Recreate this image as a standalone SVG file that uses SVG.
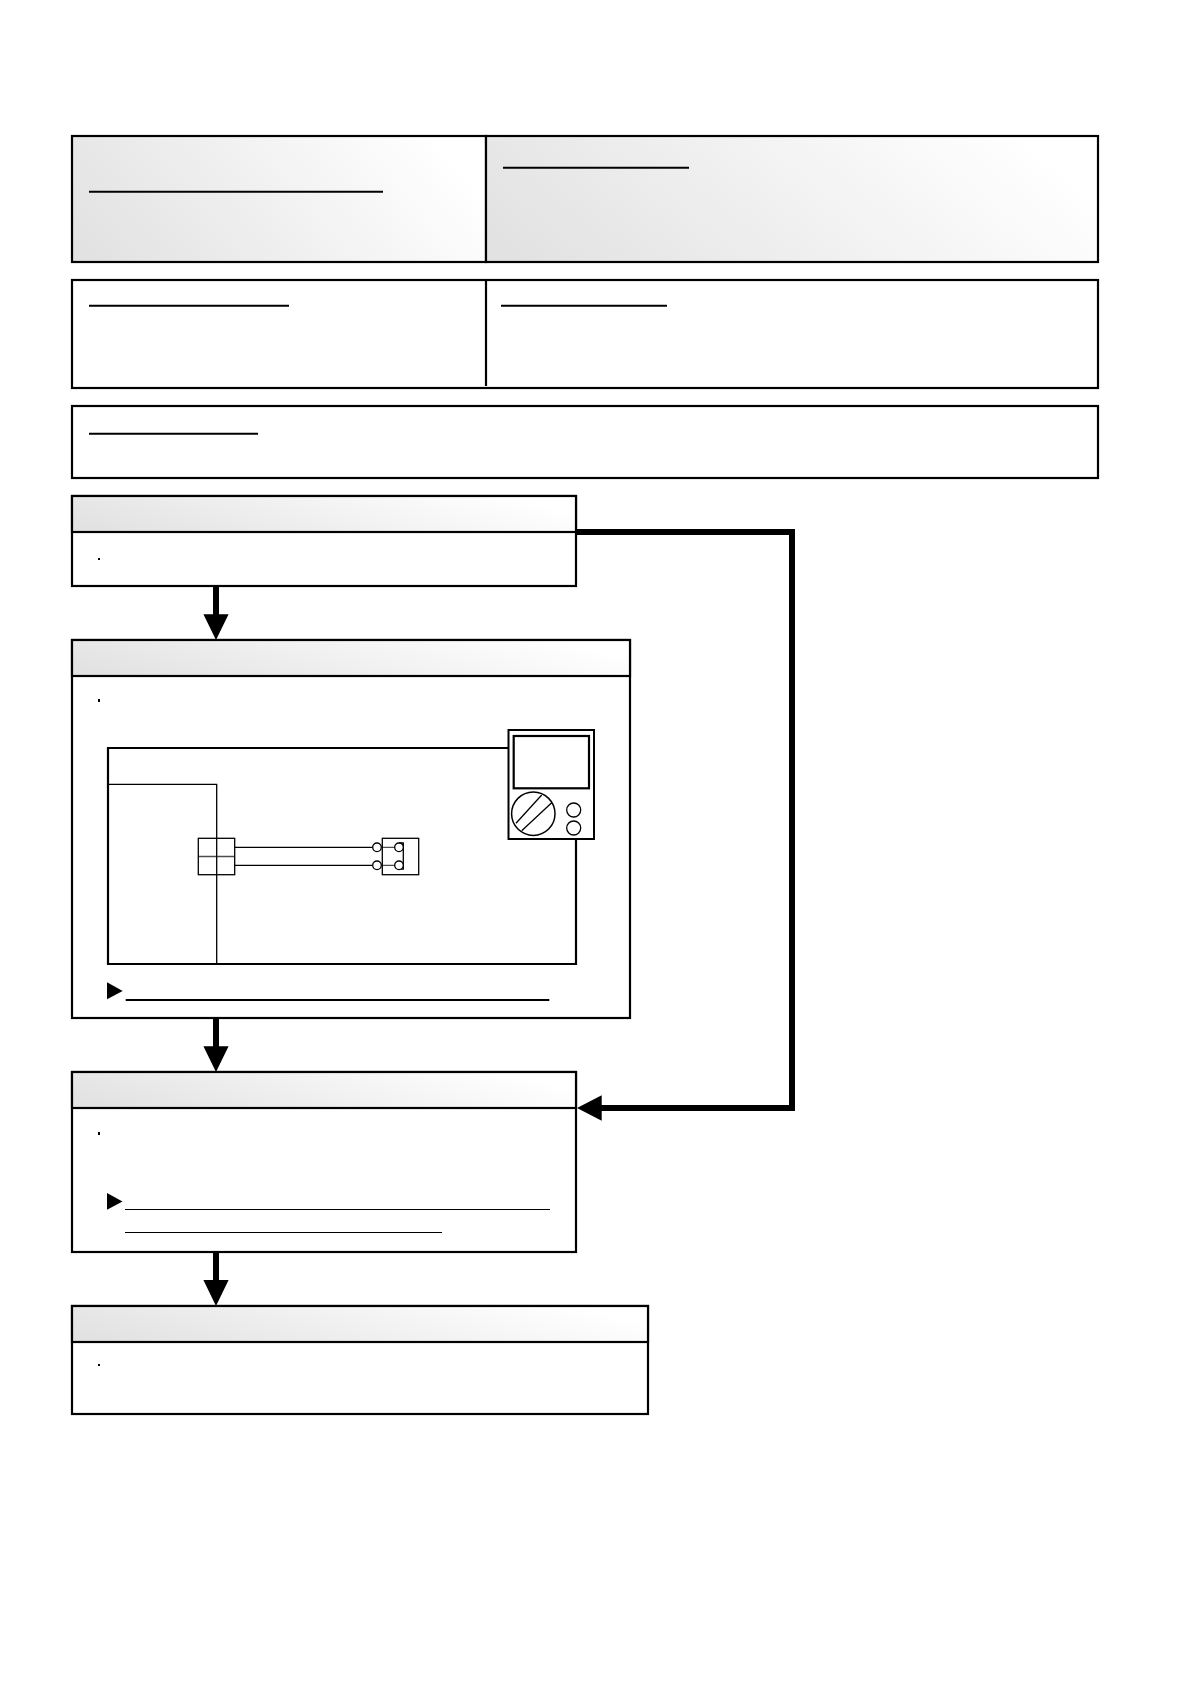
<svg xmlns="http://www.w3.org/2000/svg" width="1192" height="1684" viewBox="0 0 1192 1684">
<style>
.box{fill:#fff;stroke:#000;stroke-width:2.2}
.hdr{fill:url(#g);stroke:#000;stroke-width:2.2}
.ul{stroke:#000;stroke-width:2;fill:none}
.ut{stroke:#000;stroke-width:1.2;fill:none}
.thin{stroke:#000;stroke-width:1.3;fill:none}
.thick{stroke:#000;stroke-width:2.2;fill:none}
.c{fill:#fff;stroke:#000;stroke-width:1.3}
.conn{stroke:#000;stroke-width:6;fill:none}
</style>
<defs>
<linearGradient id="g" x1="0" y1="0.75" x2="1" y2="0.5">
<stop offset="0" stop-color="#e2e2e2"/><stop offset="1" stop-color="#ffffff"/>
</linearGradient>
</defs>
<rect width="1192" height="1684" fill="#fff"/>
<g id="n-top-left"><rect class="hdr" x="72" y="136" width="414" height="126"/><path class="ul" d="M89 191.7H383"/></g>
<g id="n-top-right"><rect class="hdr" x="486" y="136" width="612" height="126"/><path class="ul" d="M503 167.7H689"/></g>
<g id="n-mid"><rect class="box" x="72" y="280" width="1026" height="108"/><path class="thick" d="M486 280V386"/><path class="ul" d="M89 305.7H289M501 305.7H667"/></g>
<g id="n-note"><rect class="box" x="72" y="406" width="1026" height="72"/><path class="ul" d="M89 433.7H258"/></g>
<g id="n-step1"><rect class="box" x="72" y="496" width="504" height="90"/><rect class="hdr" x="72" y="496" width="504" height="36"/><rect x="98" y="558" width="2" height="2"/></g>
<g id="n-step2"><rect class="box" x="72" y="640" width="558" height="378"/><rect class="hdr" x="72" y="640" width="558" height="36"/><rect x="98" y="699" width="2" height="3"/>
<path class="thick" d="M508 748H108V964H576V839"/>
<path class="thin" d="M108 784.3H216.7V964"/>
<rect class="thin" x="198.3" y="838.3" width="36.4" height="36.4"/><path class="thin" stroke-opacity="0.7" d="M198.3 856.5H234.7"/>
<path class="thin" d="M234.7 847.3H373M234.7 865.3H373"/>
<rect class="thin" x="382.3" y="838.3" width="36.4" height="36.4"/>
<path class="thin" stroke-opacity="0.7" d="M381 847.3H395M381 865.3H395"/>
<path class="thin" d="M399 843H403.3V869H399"/>
<circle class="c" cx="377" cy="847.3" r="4.3"/><circle class="c" cx="377" cy="865.3" r="4.3"/>
<circle class="c" cx="399" cy="847.3" r="4.3"/><circle class="c" cx="399" cy="865.3" r="4.3"/>
<rect x="508.5" y="730" width="85.5" height="109" fill="#fff" stroke="#000" stroke-width="2"/>
<rect class="thick" x="513.7" y="736" width="75.3" height="52.3"/>
<circle cx="533.3" cy="813.7" r="21.7" fill="#fff" stroke="#000" stroke-width="1.5"/>
<path class="thin" d="M516 823.3L541.7 795M521.7 830.7L551.7 802.7"/>
<circle class="c" cx="573.7" cy="810" r="7"/><circle class="c" cx="573.7" cy="828" r="7"/>
<path d="M107 982.3L122.7 991L107 999.3Z"/>
<path class="ul" d="M125.7 1000H549.3"/></g>
<g id="n-step3"><rect class="box" x="72" y="1072" width="504" height="180"/><rect class="hdr" x="72" y="1072" width="504" height="36"/><rect x="98" y="1132" width="2" height="3"/>
<path d="M107 1193L122.500 1201.500L107 1209.700Z"/>
<path class="ut" d="M125 1209.500H550M125 1232.500H442"/></g>
<g id="n-step4"><rect class="box" x="72" y="1306" width="576" height="108"/><rect class="hdr" x="72" y="1306" width="576" height="36"/><rect x="98" y="1364" width="2" height="2"/></g>
<g id="connectors">
<path class="conn" d="M216 587V616M216 1019V1050M216 1253V1282"/>
<path class="conn" d="M577 532H792V1108H600"/>
<path d="M203.400 614.300H228.600L216 640ZM203.400 1046.300H228.600L216 1072ZM203.400 1280H228.600L216 1306ZM601.700 1095.200V1120.800L577 1108Z"/>
</g>
</svg>
